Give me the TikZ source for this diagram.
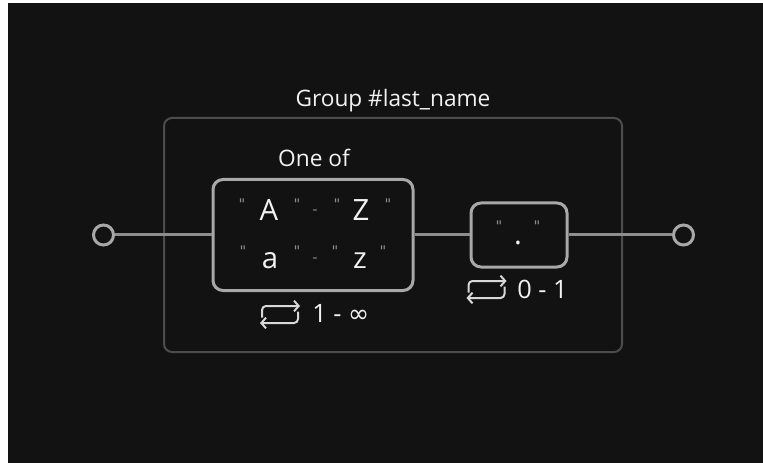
\documentclass[tikz,border=0pt]{standalone}
\usepackage{fontspec}
\setmainfont{Open Sans}
\newfontfamily\djv{DejaVu Sans}
\usetikzlibrary{arrows.meta}
\definecolor{bg}{HTML}{121212}
\definecolor{boxc}{HTML}{A8A8A8}
\definecolor{linec}{HTML}{8E8E8E}
\definecolor{grpc}{HTML}{4C4C4C}
\definecolor{txt}{HTML}{F2F2F2}
\definecolor{qc}{HTML}{8C8C8C}
\definecolor{iconc}{HTML}{D8D8D8}
\newcommand\myrepicon[2]{%
  \draw[iconst] ({#1-18},{#2+3}) -- ({#1-18},{#2-8.5}) -- ({#1+20},{#2-8.5});
  \draw[iconst] ({#1+18},{#2-3}) -- ({#1+18},{#2+8.5}) -- ({#1-20},{#2+8.5});
}
\newcommand\myq{\symbol{"22}}
\begin{document}
\begin{tikzpicture}[x=0.75pt,y=-0.75pt,
  lbl/.style={text=txt, font=\fontsize{17}{20}\selectfont, inner sep=0, anchor=base},
  cnt/.style={text=txt, font=\fontsize{19}{22}\selectfont, inner sep=0, anchor=base west},
  big/.style={text=txt, font=\fontsize{22}{26}\selectfont, inner sep=0, anchor=base},
  qt/.style={text=qc, font=\djv\fontsize{11}{13}\selectfont, inner sep=0, anchor=base},
  nodebox/.style={draw=boxc, line width=2.25pt, rounded corners=7.5pt, inner sep=0},
  conn/.style={draw=linec, line width=2.25pt},
  term/.style={circle, draw=boxc, line width=2.25pt, minimum size=15pt, inner sep=0},
  iconst/.style={draw=iconc, line width=1.5pt, rounded corners=3pt, -{Straight Barb[length=3.5pt,width=8pt,line width=1.5pt]}}]
\useasboundingbox (0,0) rectangle (763,463);
\fill[white] (0,0) rectangle (763,463);
\fill[bg] (8,3) rectangle (763,463);

% group
\draw[grpc, line width=1.5pt, rounded corners=6pt] (164,118) rectangle (622,352);
\node[lbl] (grp) at (393,107) {Group \#last\_name};

% terminals and boxes
\node[term] (s) at (103.5,235) {};
\node[term] (e) at (683.5,235) {};
\node[nodebox, minimum width=150pt, minimum height=83.25pt] (b1) at (313,235) {};
\node[nodebox, minimum width=72pt, minimum height=48pt] (b2) at (519,235) {};

\draw[conn] (s) -- (b1);
\draw[conn] (b1) -- (b2);
\draw[conn] (b2) -- (e);

% box 1 content
\node[lbl] (oneof) at (314,167) {One of};
\node[qt] (q11) at (242,210) {\myq};
\node[big] (cA) at (269,220) {A};
\node[qt] (q12) at (297,210) {\myq};
\node[qt] (d1) at (315,214.5) {-};
\node[qt] (q13) at (337,210) {\myq};
\node[big] (cZ) at (361,220) {Z};
\node[qt] (q14) at (388,210) {\myq};

\node[qt] (q21) at (243,257) {\myq};
\node[big] (ca) at (270,268) {a};
\node[qt] (q22) at (297,257) {\myq};
\node[qt] (d2) at (315,262.5) {-};
\node[qt] (q23) at (335,257) {\myq};
\node[big] (cz) at (360,268) {z};
\node[qt] (q24) at (383,257) {\myq};

\myrepicon{280}{314.5}
\node[cnt] (r1) at (312,322) {1 - {\djv ∞}};

% box 2 content
\node[qt] (q31) at (499,232) {\myq};
\node[big] (dot) at (518,244) {.};
\node[qt] (q32) at (537,232) {\myq};

\myrepicon{486.5}{289.5}
\node[cnt] (r2) at (517,298) {0 - 1};
\end{tikzpicture}
\end{document}
